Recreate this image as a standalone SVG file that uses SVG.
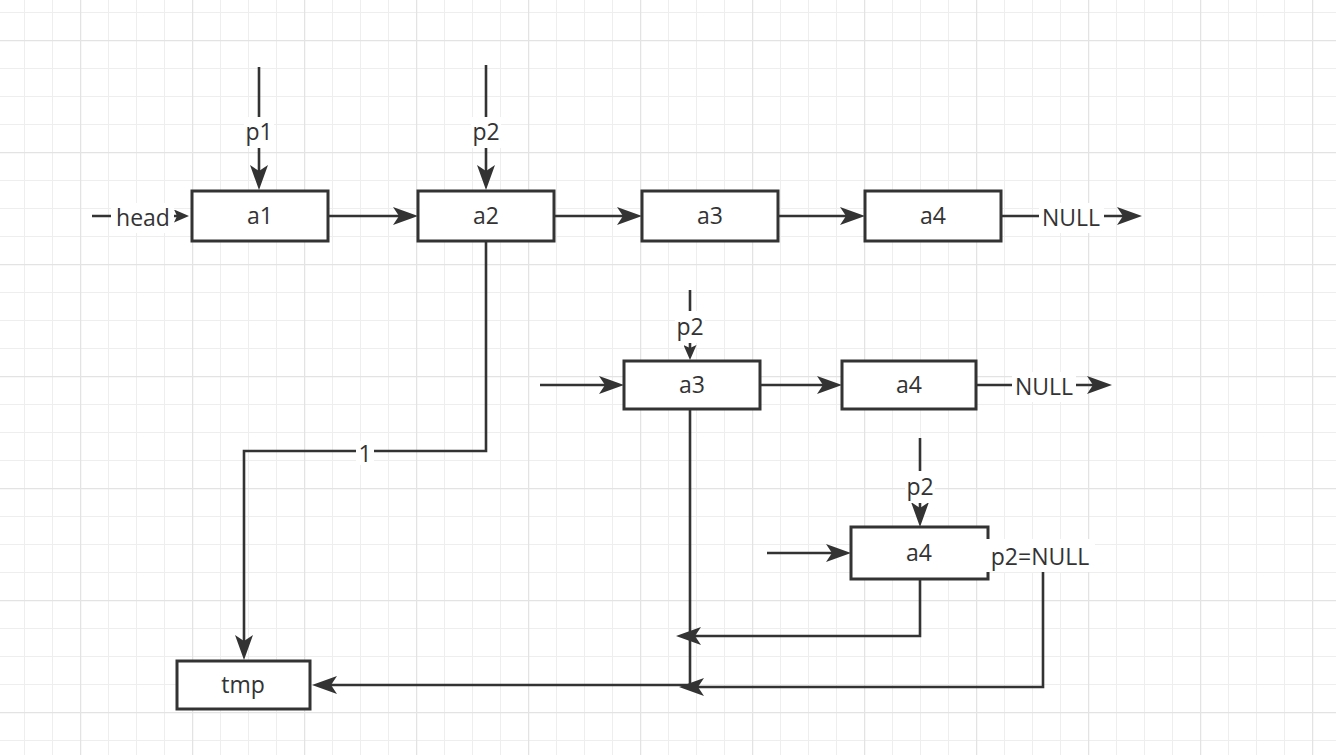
<svg xmlns="http://www.w3.org/2000/svg" width="1336" height="755" viewBox="0 0 1336 755">
<style>
.box{fill:#ffffff;stroke:#333333;stroke-width:3}
.t{font-family:"Open Sans","Liberation Sans",sans-serif;font-size:23px;fill:#333333;text-anchor:middle}
.e{fill:none;stroke:#333333;stroke-width:2.6}
.bg{fill:#ffffff}
</style>
<defs>
<pattern id="gmin" width="28" height="28" x="24" y="12" patternUnits="userSpaceOnUse">
<path d="M0.5,0 V28 M0,0.5 H28" stroke="#eeeeee" stroke-width="1" fill="none"/>
</pattern>
<pattern id="gmaj" width="112" height="112" x="80" y="40" patternUnits="userSpaceOnUse">
<path d="M0.5,0 V112 M0,0.5 H112" stroke="#e3e3e3" stroke-width="1.5" fill="none"/>
</pattern>
<marker id="arr" markerUnits="userSpaceOnUse" markerWidth="26" markerHeight="19" viewBox="0 0 26 19" refX="6" refY="9" orient="auto">
<path d="M0,0 L25,9 L0,18 L6,9 Z" fill="#333333"/>
</marker>
<marker id="sarr" markerUnits="userSpaceOnUse" markerWidth="16" markerHeight="13" viewBox="0 0 16 13" refX="3" refY="6.5" orient="auto">
<path d="M0,0 L15,6.5 L0,13 L3,6.5 Z" fill="#333333"/>
</marker>
</defs>
<rect width="1336" height="755" fill="#ffffff"/>
<rect width="1336" height="755" fill="url(#gmin)"/>
<rect width="1336" height="755" fill="url(#gmaj)"/>

<g id="connectors">
<path class="e" d="M92,216 H177" marker-end="url(#sarr)"/>
<path class="e" d="M259,67 V171" marker-end="url(#arr)"/>
<path class="e" d="M486,65 V171" marker-end="url(#arr)"/>
<path class="e" d="M329,216 H399" marker-end="url(#arr)"/>
<path class="e" d="M555,216 H623" marker-end="url(#arr)"/>
<path class="e" d="M779,216 H846" marker-end="url(#arr)"/>
<path class="e" d="M1002,216 H1123" marker-end="url(#arr)"/>
<path class="e" d="M486,242 V451 H244 V641" marker-end="url(#arr)"/>
<path class="e" d="M690,290 V348" marker-end="url(#sarr)"/>
<path class="e" d="M540,385 H605" marker-end="url(#arr)"/>
<path class="e" d="M761,385 H823" marker-end="url(#arr)"/>
<path class="e" d="M977,385 H1093" marker-end="url(#arr)"/>
<path class="e" d="M690,410 V685 H331" marker-end="url(#arr)"/>
<path class="e" d="M920,438 V508" marker-end="url(#arr)"/>
<path class="e" d="M767,553 H832" marker-end="url(#arr)"/>
<path class="e" d="M920,580 V636 H695" marker-end="url(#arr)"/>
<path class="e" d="M989,553 H1043 V687 H698" marker-end="url(#arr)"/>
</g>

<g id="node-a1"><rect class="box" x="192" y="191" width="136" height="50"/><text class="t" x="260" y="224">a1</text></g>
<g id="node-a2"><rect class="box" x="418" y="191" width="136" height="50"/><text class="t" x="486" y="224">a2</text></g>
<g id="node-a3"><rect class="box" x="642" y="191" width="136" height="50"/><text class="t" x="710" y="224">a3</text></g>
<g id="node-a4"><rect class="box" x="865" y="191" width="136" height="50"/><text class="t" x="933" y="224">a4</text></g>
<g id="node-a3b"><rect class="box" x="624" y="361" width="136" height="48"/><text class="t" x="692" y="393">a3</text></g>
<g id="node-a4b"><rect class="box" x="842" y="361" width="134" height="48"/><text class="t" x="909" y="393">a4</text></g>
<g id="node-a4c"><rect class="box" x="851" y="527" width="137" height="52"/><text class="t" x="919" y="561">a4</text></g>
<g id="node-tmp"><rect class="box" x="177" y="661" width="133" height="48"/><text class="t" x="243" y="693">tmp</text></g>

<g id="labels">
<rect class="bg" x="111" y="203" width="63" height="30"/><text class="t" x="143" y="226">head</text>
<rect class="bg" x="244" y="117" width="30" height="31"/><text class="t" x="259" y="140">p1</text>
<rect class="bg" x="471" y="117" width="30" height="31"/><text class="t" x="486" y="140">p2</text>
<rect class="bg" x="1039" y="203" width="65" height="30"/><text class="t" x="1071" y="226">NULL</text>
<rect class="bg" x="356" y="441" width="18" height="24"/><text class="t" x="365" y="462">1</text>
<rect class="bg" x="675" y="311" width="30" height="32"/><text class="t" x="690" y="335">p2</text>
<rect class="bg" x="1012" y="372" width="64" height="30"/><text class="t" x="1044" y="395">NULL</text>
<rect class="bg" x="905" y="471" width="30" height="32"/><text class="t" x="920" y="495">p2</text>
<rect class="bg" x="985" y="539" width="110" height="33"/><text class="t" x="1040" y="565">p2=NULL</text>
</g>
</svg>
